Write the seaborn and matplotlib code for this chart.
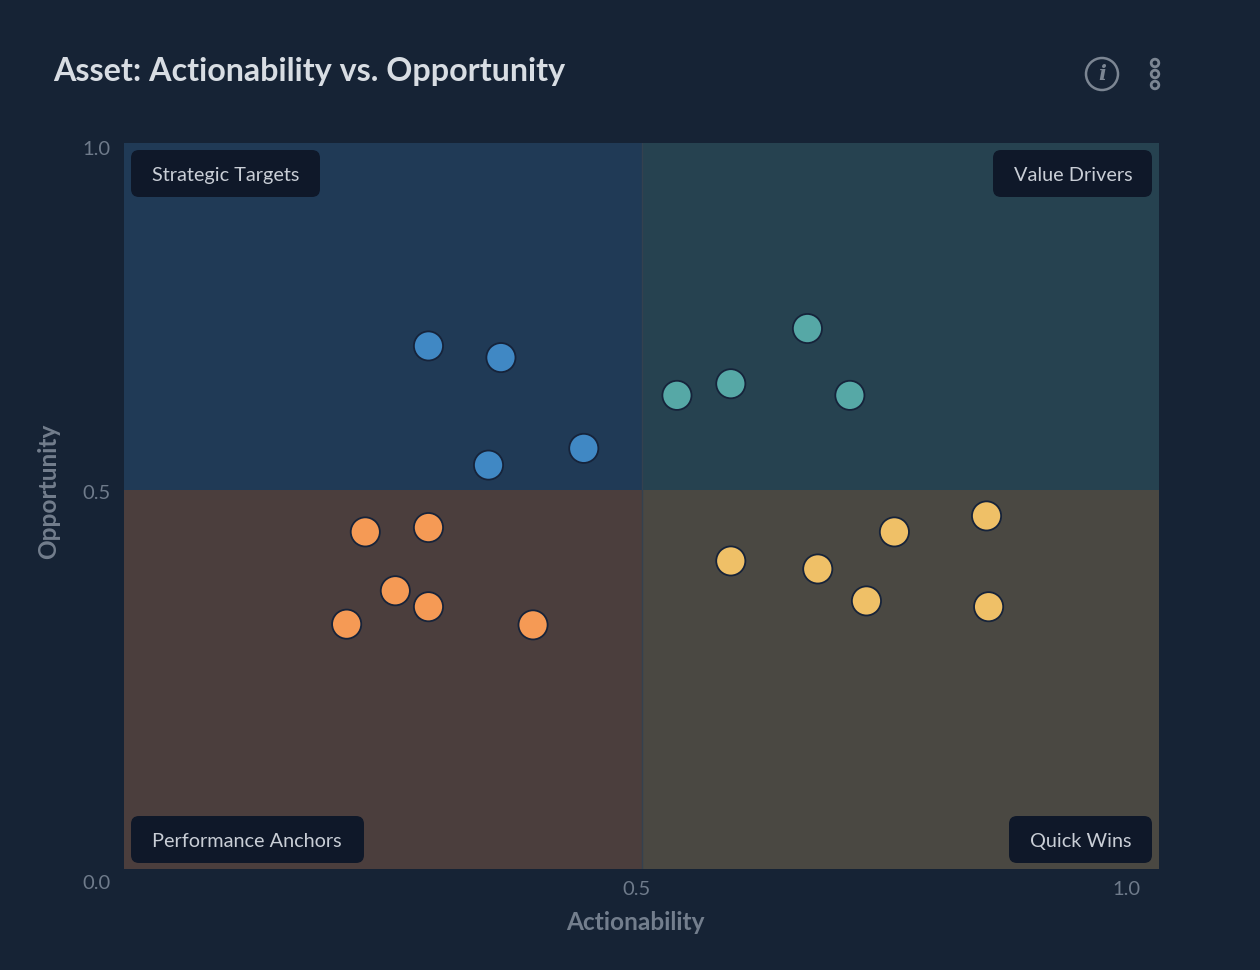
import matplotlib
matplotlib.use('Agg')
import matplotlib.pyplot as plt
import seaborn as sns
import pandas as pd
from matplotlib.patches import FancyBboxPatch, Circle
from matplotlib.transforms import Affine2D, IdentityTransform

# valores
strategic_x = [0.294, 0.364, 0.352, 0.444]
strategic_y = [0.720, 0.704, 0.556, 0.579]
drivers_x = [0.534, 0.586, 0.660, 0.701]
drivers_y = [0.652, 0.668, 0.744, 0.652]
anchors_x = [0.233, 0.294, 0.262, 0.294, 0.215, 0.395]
anchors_y = [0.464, 0.470, 0.383, 0.361, 0.337, 0.336]
wins_x = [0.586, 0.670, 0.744, 0.833, 0.717, 0.835]
wins_y = [0.424, 0.413, 0.464, 0.486, 0.369, 0.361]

quadrants = ['Strategic Targets', 'Value Drivers', 'Performance Anchors', 'Quick Wins']
point_colors = ['#4088c4', '#56a8a6', '#f59a55', '#efc067']
x_ticks = [0.5, 1.0]
x_tick_labels = ['0.5', '1.0']
y_ticks = [0.0, 0.522, 1.0]
y_tick_labels = ['0.0', '0.5', '1.0']

BG = '#162335'
W, H = 1260, 970
X_SPLIT = 0.5
Y_SPLIT = 0.522

df = pd.concat([
    pd.DataFrame({'x': xs, 'y': ys, 'quadrant': q})
    for xs, ys, q in zip([strategic_x, drivers_x, anchors_x, wins_x],
                         [strategic_y, drivers_y, anchors_y, wins_y], quadrants)
])

sns.set_theme(style='white')
plt.rcParams['font.family'] = ['Lato', 'DejaVu Sans']

fig = plt.figure(figsize=((W + 0.5) / 100, (H + 0.5) / 100), dpi=100, facecolor=BG)
ax = fig.add_axes([124 / W, 1 - 869 / H, 1035 / W, 726 / H], facecolor=BG)

# Quadrantes de fundo
ax.axvspan(0, X_SPLIT, Y_SPLIT, 1, color='#203a56', lw=0, zorder=0)
ax.axvspan(X_SPLIT, 1, Y_SPLIT, 1, color='#264250', lw=0, zorder=0)
ax.axvspan(0, X_SPLIT, 0, Y_SPLIT, color='#4b3e3d', lw=0, zorder=0)
ax.axvspan(X_SPLIT, 1, 0, Y_SPLIT, color='#4a4842', lw=0, zorder=0)
ax.axvline(X_SPLIT, color='#34414f', lw=1, zorder=1)

sns.scatterplot(data=df, x='x', y='y', hue='quadrant', hue_order=quadrants,
                palette=point_colors, s=440, edgecolor='#16233a', linewidth=1.3,
                legend=False, ax=ax, zorder=3, clip_on=False)

ax.set_xlim(0, 1)
ax.set_ylim(0, 1)
sns.despine(ax=ax, left=True, bottom=True)

ax.set_xticks(x_ticks, x_tick_labels)
ax.set_yticks(y_ticks, y_tick_labels)
ax.tick_params(length=0, labelsize=14.5, labelcolor='#6f7b8b', pad=9)

# Rotulos dos ticks nao ficam alinhados com o eixo no original
for lab, dx in zip(ax.get_xticklabels(), [-5, -33]):
    lab.set_transform(lab.get_transform() + Affine2D().translate(dx, 1))
for lab, dy in zip(ax.get_yticklabels(), [-13, -2, -5]):
    lab.set_transform(lab.get_transform() + Affine2D().translate(-1, dy))

ax.set_xlabel('Actionability', fontsize=17.6, fontweight='bold', color='#737e8d')
ax.set_ylabel('Opportunity', fontsize=17.6, fontweight='bold', color='#737e8d')
ax.xaxis.set_label_coords(0.4937, -0.073)
ax.yaxis.set_label_coords(-0.0725, 0.5207)
ax.xaxis.label.set_va('center')
ax.yaxis.label.set_va('center')

fig.text(53.5 / W, 1 - 71 / H, 'Asset: Actionability vs. Opportunity', fontsize=23.2,
         color='#d8dde3', va='center', ha='left', fontweight='bold')

# Etiquetas dos quadrantes, em pixels
badges = [(131, 320, 150, 197), (993, 1152, 150, 197), (131, 364, 816, 863), (1009, 1152, 816, 863)]
pix = IdentityTransform()
for name, (x0, x1, y0, y1) in zip(quadrants, badges):
    fig.add_artist(FancyBboxPatch((x0 + 8, H - y1 + 8), x1 - x0 - 16, y1 - y0 - 16,
                                  boxstyle='round,pad=8,rounding_size=8', fc='#0f1829',
                                  ec='none', transform=pix, zorder=5))
    fig.text((x0 + 20.5) / W, 1 - ((y0 + y1) / 2 + 2) / H, name, fontsize=14.3,
             color='#c9ced6', va='center', ha='left', zorder=6)

# Icones do cabecalho
icon = '#7c8693'
fig.add_artist(Circle((1102, H - 74), 16, fc='none', ec=icon, lw=1.8, transform=pix))
fig.text(1102 / W, 1 - 74 / H, 'i', fontsize=15, color=icon, ha='center', va='center',
         family=['DejaVu Serif'], style='italic', fontweight='bold')
for py in [63, 74, 85]:
    fig.add_artist(Circle((1155, H - py), 3.8, fc='none', ec=icon, lw=2, transform=pix))

fig.savefig('out.png', dpi=100, facecolor=BG)
